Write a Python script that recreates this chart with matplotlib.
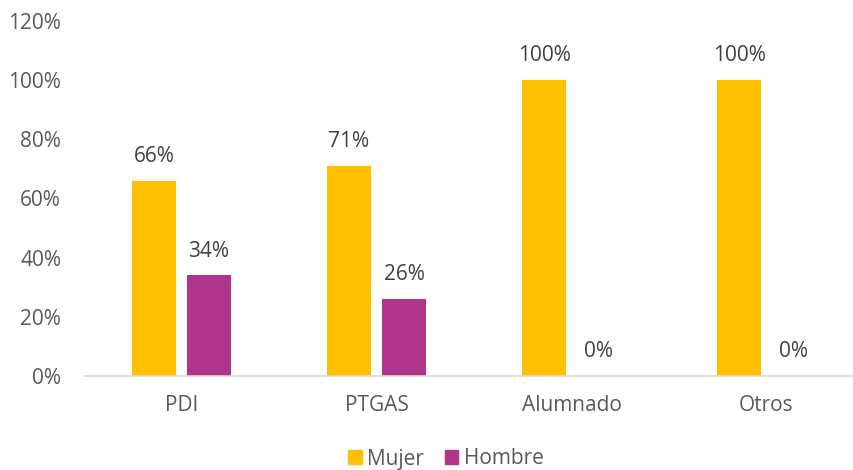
import matplotlib
matplotlib.use("Agg")
import matplotlib.pyplot as plt
import numpy as np
from matplotlib.patches import Patch

categories = ["PDI", "PTGAS", "Alumnado", "Otros"]
mujer = [66, 71, 100, 100]
hombre = [34, 26, 0, 0]
yticks = [0, 20, 40, 60, 80, 100, 120]

plt.rcParams['font.family'] = ['Open Sans', 'DejaVu Sans']
text_color = "#595959"
label_color = "#404040"
c_m = "#FFC000"
c_h = "#B0358A"
fs = 15

fig = plt.figure(figsize=(8.54, 4.70), dpi=100)
ax = fig.add_axes([84/854, 94/470, 780/854, 355/470])

x = np.arange(len(categories))
w = 0.2256
off = 0.141
b1 = ax.bar(x - off, mujer, w, color=c_m, label="Mujer")
b2 = ax.bar(x + off, hombre, w, color=c_h, label="Hombre")

for bars, vals in ((b1, mujer), (b2, hombre)):
    for r, v in zip(bars, vals):
        ax.annotate(f"{v}%", (r.get_x() + r.get_width()/2, v),
                    xytext=(0, 10), textcoords="offset points",
                    ha="center", va="bottom", fontsize=fs, color=label_color)

ax.set_xlim(-0.5, 3.5)
ax.set_ylim(0, 120)
ax.set_yticks(yticks)
ax.set_yticklabels([f"{t}%" for t in yticks], fontsize=fs, color=text_color)
ax.set_xticks(x)
ax.set_xticklabels(categories, fontsize=fs, color=text_color)
ax.tick_params(axis="y", length=0, pad=16.5)
ax.tick_params(axis="x", length=0, pad=14)
for s in ["top", "right", "left"]:
    ax.spines[s].set_visible(False)
ax.spines["bottom"].set_color("#D9D9D9")
ax.spines["bottom"].set_linewidth(1.2)

handles = [Patch(color=c_m, label="Mujer"), Patch(color=c_h, label="Hombre")]
fig.legend(handles=handles, loc="center", bbox_to_anchor=(446/854, 1 - 459/470),
           ncol=2, frameon=False, fontsize=fs, handlelength=0.65, handleheight=0.65,
           handletextpad=0.25, columnspacing=1.0, labelcolor=text_color)

fig.savefig("out.png", dpi=100)
